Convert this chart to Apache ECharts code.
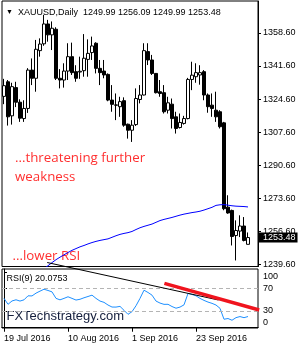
<!DOCTYPE html>
<html><head><meta charset="utf-8">
<script src="https://cdn.jsdelivr.net/npm/echarts@6/dist/echarts.min.js"></script>
<style>html,body{margin:0;padding:0;background:#fff}#c{width:300px;height:350px}</style>
</head><body><div id="c"></div>
<script>
const dates = ['19 Jul 2016','20 Jul 2016','21 Jul 2016','22 Jul 2016','25 Jul 2016','26 Jul 2016','27 Jul 2016','28 Jul 2016','29 Jul 2016','1 Aug 2016',
'2 Aug 2016','3 Aug 2016','4 Aug 2016','5 Aug 2016','8 Aug 2016','9 Aug 2016','10 Aug 2016','11 Aug 2016','12 Aug 2016','15 Aug 2016',
'16 Aug 2016','17 Aug 2016','18 Aug 2016','19 Aug 2016','22 Aug 2016','23 Aug 2016','24 Aug 2016','25 Aug 2016','26 Aug 2016','29 Aug 2016',
'30 Aug 2016','31 Aug 2016','1 Sep 2016','2 Sep 2016','5 Sep 2016','6 Sep 2016','7 Sep 2016','8 Sep 2016','9 Sep 2016','12 Sep 2016',
'13 Sep 2016','14 Sep 2016','15 Sep 2016','16 Sep 2016','19 Sep 2016','20 Sep 2016','21 Sep 2016','22 Sep 2016','23 Sep 2016','26 Sep 2016',
'27 Sep 2016','28 Sep 2016','29 Sep 2016','30 Sep 2016','3 Oct 2016','4 Oct 2016','5 Oct 2016','6 Oct 2016','7 Oct 2016','10 Oct 2016',
'11 Oct 2016','12 Oct 2016'];
const openP = [1326.0,1333.5,1316.0,1330.5,1323.0,1314.6,1319.8,1339.5,1335.3,1349.5,
1353.0,1363.2,1357.6,1360.5,1335.3,1334.4,1339.0,1346.4,1338.7,1338.5,
1339.2,1345.0,1348.5,1353.3,1340.4,1339.0,1337.3,1324.1,1321.6,1320.7,
1323.8,1311.7,1308.6,1311.5,1324.4,1326.7,1349.0,1344.7,1337.8,1328.4,
1327.9,1318.9,1322.0,1315.5,1310.0,1312.1,1314.6,1334.7,1336.1,1337.0,
1338.7,1326.7,1321.5,1318.9,1318.1,1312.4,1269.1,1267.4,1254.5,1256.8,
1259.4,1249.99];
const highP = [1335.0,1334.4,1333.0,1333.5,1324.5,1324.0,1340.5,1345.5,1355.0,1355.8,
1367.9,1365.3,1364.5,1361.5,1340.0,1343.0,1353.3,1353.6,1342.0,1346.4,
1358.0,1355.3,1356.7,1353.8,1344.7,1344.7,1337.8,1331.8,1327.5,1325.8,
1325.5,1312.0,1313.8,1330.1,1331.8,1353.3,1353.3,1347.3,1338.0,1334.4,
1331.8,1325.8,1324.9,1318.1,1317.2,1316.0,1335.5,1343.8,1343.0,1342.0,
1339.5,1327.5,1327.5,1328.4,1318.9,1312.9,1275.2,1267.8,1262.3,1264.9,
1264.0,1256.09];
const lowP = [1322.0,1311.0,1311.5,1320.5,1312.9,1312.9,1317.5,1331.8,1328.4,1346.4,
1352.0,1354.1,1349.8,1334.4,1330.1,1330.5,1334.4,1337.0,1333.5,1335.0,
1336.1,1336.1,1344.7,1337.8,1331.8,1335.3,1323.5,1318.1,1313.8,1315.5,
1310.4,1304.3,1302.6,1310.8,1322.4,1326.5,1342.1,1337.0,1327.5,1325.8,
1317.2,1317.2,1309.5,1306.9,1309.5,1311.5,1314.2,1329.2,1333.0,1332.0,
1324.0,1317.6,1315.5,1312.9,1309.5,1267.5,1265.7,1249.4,1241.7,1253.7,
1251.5,1249.99];
const closeP = [1331.5,1315.5,1331.0,1323.0,1314.8,1319.8,1339.5,1335.3,1350.2,1352.9,
1363.2,1357.6,1361.0,1335.3,1334.4,1339.0,1346.4,1338.2,1335.3,1338.9,
1345.6,1348.1,1351.9,1340.4,1338.2,1337.0,1324.1,1321.9,1321.5,1323.3,
1311.2,1308.6,1311.2,1324.9,1326.7,1349.5,1344.7,1337.8,1327.9,1327.5,
1318.1,1322.7,1314.6,1309.5,1312.6,1314.6,1334.7,1336.9,1338.2,1338.2,
1326.7,1320.7,1319.8,1315.5,1310.4,1268.3,1266.1,1254.0,1257.1,1259.4,
1252.0,1253.48];
const maValues = ['-','-','-','-','-','-','-','-','-','-',
1237.4,1239.0,1240.6,1242.1,1243.4,1244.6,1245.8,1246.9,1247.8,1248.7,
1249.4,1250.2,1250.9,1251.5,1252.0,1252.4,1252.8,1253.6,1254.4,1255.1,
1255.6,1256.0,1256.6,1257.6,1258.5,1259.2,1259.8,1260.4,1261.3,1262.2,
1262.8,1263.3,1263.8,1264.4,1265.0,1265.5,1265.9,1266.3,1266.6,1267.0,
1267.6,1268.3,1269.0,1270.0,1270.3,1270.4,1270.1,1269.8,1269.6,1269.5,
1269.4,1269.2];
const rsiValues = [52.6,42.0,48.0,50.1,47.8,50.0,57.2,57.0,62.0,65.6,
69.0,66.8,64.3,52.6,50.0,52.6,55.5,52.6,49.6,51.0,
53.7,56.0,58.4,52.6,47.8,45.5,40.7,37.1,37.0,38.3,
31.2,24.0,28.8,39.4,52.6,67.3,63.2,58.4,47.8,44.2,
41.9,42.0,38.0,35.0,37.0,41.0,61.4,59.6,57.2,52.6,
49.0,46.0,43.7,40.7,34.8,15.2,16.5,13.4,18.1,20.0,
18.0,20.0753];
const priceTicks = [1239.6,1256.6,1273.6,1290.6,1307.6,1324.6,1341.6,1358.6];
const rsiTicks = [0,30,70,100];
const rsiLevels = [70,30];
const dateLabelIdx = [0,16,32,48];
const trendBlack = [[10.8,116.9],[53.6,49.7]];
const trendRed = [[40.1,79.6],[63.8,31.8]];
const extraSlots = 2;

const N = dates.length + extraSlots;
const cats = dates.concat(Array(extraSlots).fill(''));
const candle = dates.map((d,i)=>[openP[i], closeP[i], lowP[i], highP[i]]);
const last = dates.length - 1;
const FF = '"Liberation Sans", Arial, sans-serif';
const lab = {fontSize:9, fontFamily:FF, color:'#000'};
const showIdx = (i)=>dateLabelIdx.indexOf(i) >= 0;

const chart = echarts.init(document.getElementById('c'), null, {renderer:'canvas'});
chart.setOption({
  animation:false,
  backgroundColor:'#fff',
  grid:[
    {left:2, top:1, width:256, height:265.5, show:true, borderColor:'#000', borderWidth:1, backgroundColor:'#fff'},
    {left:2, top:269, width:256, height:59, show:true, borderColor:'#000', borderWidth:1, backgroundColor:'#fff'}
  ],
  xAxis:[
    {type:'category', gridIndex:0, data:cats, show:false, boundaryGap:true},
    {type:'category', gridIndex:1, data:cats, boundaryGap:true,
      axisLine:{show:true, lineStyle:{color:'#000', width:1}},
      axisTick:{show:true, length:4, alignWithLabel:true, interval:showIdx, lineStyle:{color:'#000'}},
      axisLabel:Object.assign({interval:showIdx, align:'left', margin:6}, lab),
      splitLine:{show:false}},
    {type:'value', gridIndex:1, min:-0.5, max:N-0.5, show:false}
  ],
  yAxis:[
    {type:'value', gridIndex:0, position:'right', min:1238.6, max:1375.0,
      axisLine:{show:true, lineStyle:{color:'#000'}},
      axisTick:{show:true, length:3, customValues:priceTicks, lineStyle:{color:'#000'}},
      axisLabel:Object.assign({customValues:priceTicks, formatter:(v)=>v.toFixed(2), margin:5}, lab),
      splitLine:{show:false}},
    {type:'value', gridIndex:1, position:'right', min:-0.5, max:105.3,
      axisLine:{show:true, lineStyle:{color:'#000'}},
      axisTick:{show:true, length:3, customValues:rsiTicks, lineStyle:{color:'#000'}},
      axisLabel:Object.assign({customValues:rsiTicks, margin:5,
        formatter:(v)=> v===100 ? '{a|100}' : (v===0 ? '{b|0}' : String(v)),
        rich:{a:Object.assign({padding:[9.5,0,0,0]}, lab), b:Object.assign({padding:[0,0,11,0]}, lab)}}, lab),
      splitLine:{show:false}}
  ],
  series:[
    {type:'candlestick', xAxisIndex:0, yAxisIndex:0, data:candle, barWidth:3, silent:true,
      itemStyle:{color:'#fff', color0:'#000', borderColor:'#000', borderColor0:'#000', borderWidth:1},
      markLine:{silent:true, symbol:'none', data:[{yAxis:closeP[last]}],
        lineStyle:{color:'rgba(0,0,0,0)', width:0},
        label:{show:true, position:'end', distance:1, formatter:closeP[last].toFixed(2),
          backgroundColor:'#000', color:'#fff', fontSize:9, fontFamily:FF, padding:[1,2,0,4]}}},
    {type:'line', xAxisIndex:0, yAxisIndex:0, data:maValues, symbol:'none', silent:true,
      lineStyle:{color:'#0000ff', width:1}, z:3},
    {type:'line', xAxisIndex:1, yAxisIndex:1, data:rsiValues, symbol:'none', silent:true,
      lineStyle:{color:'#1e90ff', width:1},
      markLine:{silent:true, symbol:'none', data:rsiLevels.map(v=>({yAxis:v})),
        lineStyle:{color:'#b4b4b4', type:[4,3], width:1}, label:{show:false}}},
    {type:'line', xAxisIndex:2, yAxisIndex:1, data:trendBlack, symbol:'none', silent:true, clip:false,
      lineStyle:{color:'#000', width:1}, z:5},
    {type:'line', xAxisIndex:2, yAxisIndex:1, data:trendRed, symbol:'none', silent:true, clip:false,
      lineStyle:{color:'#f0141e', width:3.5}, z:6}
  ],
  graphic:[
    {type:'text', x:6, y:12.5, style:{text:'▼', font:'7px '+FF, fill:'#000', verticalAlign:'middle'}},
    {type:'text', x:18, y:12.7, style:{text:'XAUUSD,Daily  '+[openP[last],highP[last],lowP[last],closeP[last]].map(v=>v.toFixed(2)).join(' '),
      font:'9px '+FF, fill:'#000', verticalAlign:'middle'}},
    {type:'text', x:6.5, y:278.5, style:{text:'RSI(9) '+rsiValues[last].toFixed(4), font:'9px '+FF, fill:'#000', verticalAlign:'middle'}},
    {type:'text', x:6.5, y:316, style:{text:'FXTechstrategy.com', font:'13px '+FF, fill:'#141e3c', verticalAlign:'middle'}},
    {type:'text', x:15, y:158.5, style:{text:'...threatening further', font:'13.3px "Open Sans"', fill:'#ff3030', verticalAlign:'middle'}},
    {type:'text', x:15, y:177, style:{text:'weakness', font:'13.3px "Open Sans"', fill:'#ff3030', verticalAlign:'middle'}},
    {type:'text', x:12.5, y:256, style:{text:'...lower RSI', font:'13.3px "Open Sans"', fill:'#ff3030', verticalAlign:'middle'}}
  ]
});
</script>
</body></html>
